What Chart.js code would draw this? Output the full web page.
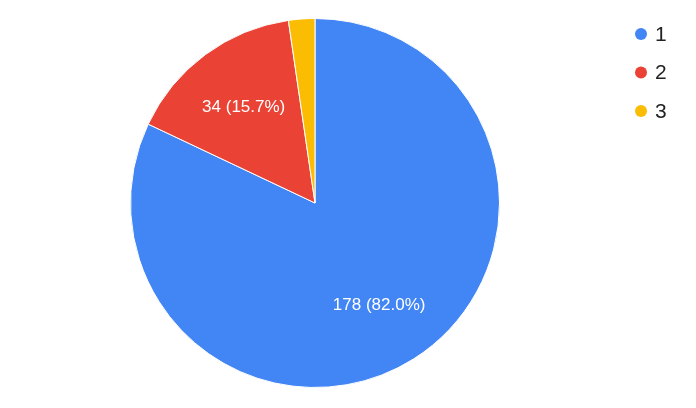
<!DOCTYPE html>
<html>
<head>
<meta charset="utf-8">
<script src="https://cdn.jsdelivr.net/npm/chart.js@4"></script>
<style>
  html, body { margin: 0; padding: 0; background: #fff; }
  #wrap { width: 696px; height: 408px; position: relative; }
</style>
</head>
<body>
<div id="wrap"><canvas id="pie"></canvas></div>
<script>
const labels = ['1', '2', '3'];
const counts = [178, 34, 5];
const colors = ['#4285F4', '#EA4335', '#FBBC04'];

// labels inside slices: "value (pct%)"
const sliceLabels = {
  id: 'sliceLabels',
  afterDatasetsDraw(chart) {
    const ctx = chart.ctx;
    const meta = chart.getDatasetMeta(0);
    const total = counts.reduce((a, b) => a + b, 0);
    ctx.save();
    ctx.font = '17px "Liberation Sans", Arial, sans-serif';
    ctx.fillStyle = '#fff';
    ctx.textAlign = 'center';
    ctx.textBaseline = 'middle';
    meta.data.forEach(function(arc, i) {
      const pct = counts[i] / total * 100;
      if (pct < 5) return;
      const mid = (arc.startAngle + arc.endAngle) / 2;
      const r = arc.outerRadius * 0.65;
      const x = arc.x + Math.cos(mid) * r;
      const y = arc.y + Math.sin(mid) * r;
      ctx.fillText(counts[i] + ' (' + pct.toFixed(1) + '%)', x, y + 1);
    });
    ctx.restore();
  }
};

// legend drawn at top right like the original
const sideLegend = {
  id: 'sideLegend',
  afterDraw(chart) {
    const ctx = chart.ctx;
    ctx.save();
    ctx.font = '21px "Liberation Sans", Arial, sans-serif';
    ctx.textBaseline = 'middle';
    ctx.textAlign = 'left';
    labels.forEach(function(lab, i) {
      const y = 34 + i * 38.5;
      ctx.beginPath();
      ctx.arc(641, y, 6, 0, Math.PI * 2);
      ctx.fillStyle = colors[i];
      ctx.fill();
      ctx.fillStyle = '#222';
      ctx.fillText(lab, 655, y + 1);
    });
    ctx.restore();
  }
};

new Chart(document.getElementById('pie'), {
  type: 'pie',
  data: {
    labels: labels,
    datasets: [{
      data: counts,
      backgroundColor: colors,
      borderColor: '#fff',
      borderWidth: 1
    }]
  },
  options: {
    responsive: true,
    maintainAspectRatio: false,
    animation: false,
    layout: { padding: { left: 0, right: 66, top: 18, bottom: 20 } },
    plugins: {
      legend: { display: false },
      tooltip: { enabled: false }
    }
  },
  plugins: [sliceLabels, sideLegend]
});
</script>
</body>
</html>
